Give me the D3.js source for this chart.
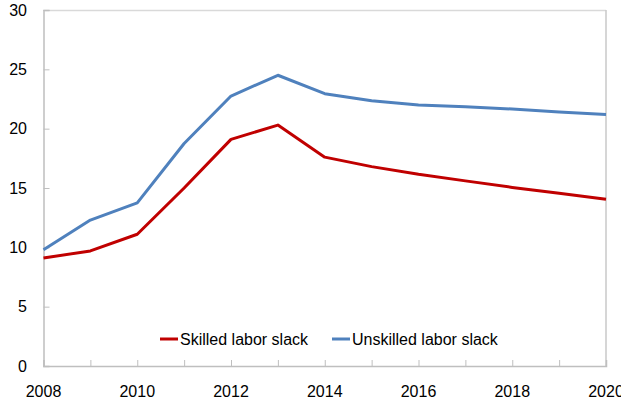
<!DOCTYPE html>
<html>
<head>
<meta charset="utf-8">
<script src="https://cdn.jsdelivr.net/npm/d3@7"></script>
<style>
  body { margin: 0; background: white; }
  svg { display: block; font-family: "Liberation Sans", Arial, sans-serif; }
</style>
</head>
<body>
<div id="chart"></div>
<script>
// Data
const years = [2008, 2009, 2010, 2011, 2012, 2013, 2014, 2015, 2016, 2017, 2018, 2019, 2020];
const skilled = [9.1, 9.7, 11.1, 15.0, 19.1, 20.3, 17.6, 16.8, 16.15, 15.6, 15.05, 14.55, 14.05];
const unskilled = [9.8, 12.3, 13.75, 18.75, 22.75, 24.5, 22.95, 22.35, 22.0, 21.85, 21.65, 21.4, 21.2];
const yTicks = [0, 5, 10, 15, 20, 25, 30];
const xLabels = [2008, 2010, 2012, 2014, 2016, 2018, 2020];
const seriesNames = ["Skilled labor slack", "Unskilled labor slack"];

const width = 621;
const height = 400;
const margin = { top: 10, right: 15, bottom: 34, left: 43.5 };

const red = "#C00000";
const blue = "#4F81BD";

const svg = d3.select("#chart").append("svg")
  .attr("width", width)
  .attr("height", height);

const x = d3.scaleLinear()
  .domain([2008, 2020])
  .range([margin.left, width - margin.right]);

const y = d3.scaleLinear()
  .domain([0, 30])
  .range([height - margin.bottom, margin.top]);

// frame: top and right lighter
svg.append("line")
  .attr("x1", x(2008)).attr("x2", x(2020))
  .attr("y1", y(30) + 0.5).attr("y2", y(30) + 0.5)
  .attr("stroke", "#d9d9d9").attr("stroke-width", 1.5);
svg.append("line")
  .attr("x1", x(2020)).attr("x2", x(2020))
  .attr("y1", y(30)).attr("y2", y(0))
  .attr("stroke", "#c8c8c8").attr("stroke-width", 1.5);

// y axis (ticks pointing inward)
const yAxis = d3.axisRight(y).tickValues(yTicks).tickSize(6).tickFormat("");
const yg = svg.append("g").attr("transform", `translate(${x(2008)},0)`).call(yAxis);
yg.select(".domain").attr("stroke", "#bfbfbf").attr("stroke-width", 1.5);
yg.selectAll(".tick line").attr("stroke", "#bfbfbf");

svg.selectAll(".ylab")
  .data(yTicks)
  .enter().append("text")
  .attr("class", "ylab")
  .attr("x", 27)
  .attr("y", d => y(d))
  .attr("dy", "0.36em")
  .attr("text-anchor", "end")
  .attr("font-size", 16)
  .attr("fill", "#000")
  .text(d => d);

// x axis (ticks every year, pointing up)
const xAxis = d3.axisTop(x).tickValues(years).tickSize(6).tickFormat("");
const xg = svg.append("g").attr("transform", `translate(0,${y(0)})`).call(xAxis);
xg.select(".domain").attr("stroke", "#bfbfbf").attr("stroke-width", 1.5);
xg.selectAll(".tick line").attr("stroke", "#bfbfbf");

svg.selectAll(".xlab")
  .data(xLabels)
  .enter().append("text")
  .attr("class", "xlab")
  .attr("x", d => x(d))
  .attr("y", 397)
  .attr("text-anchor", "middle")
  .attr("font-size", 16)
  .attr("fill", "#000")
  .text(d => d);

// lines
const line = d3.line()
  .x((d, i) => x(years[i]))
  .y(d => y(d));

svg.append("path")
  .datum(unskilled)
  .attr("d", line)
  .attr("fill", "none")
  .attr("stroke", blue)
  .attr("stroke-width", 3)
  .attr("stroke-linejoin", "round");

svg.append("path")
  .datum(skilled)
  .attr("d", line)
  .attr("fill", "none")
  .attr("stroke", red)
  .attr("stroke-width", 3)
  .attr("stroke-linejoin", "round");

// legend
const legendItems = [
  { name: seriesNames[0], color: red, x0: 160 },
  { name: seriesNames[1], color: blue, x0: 332 }
];
const lg = svg.append("g").attr("transform", "translate(0,339)");
lg.selectAll("line")
  .data(legendItems)
  .enter().append("line")
  .attr("x1", d => d.x0).attr("x2", d => d.x0 + 18)
  .attr("y1", 0).attr("y2", 0)
  .attr("stroke", d => d.color)
  .attr("stroke-width", 3);
lg.selectAll("text")
  .data(legendItems)
  .enter().append("text")
  .attr("x", d => d.x0 + 20)
  .attr("y", 0)
  .attr("dy", "0.36em")
  .attr("font-size", 16)
  .attr("fill", "#000")
  .text(d => d.name);
</script>
</body>
</html>
